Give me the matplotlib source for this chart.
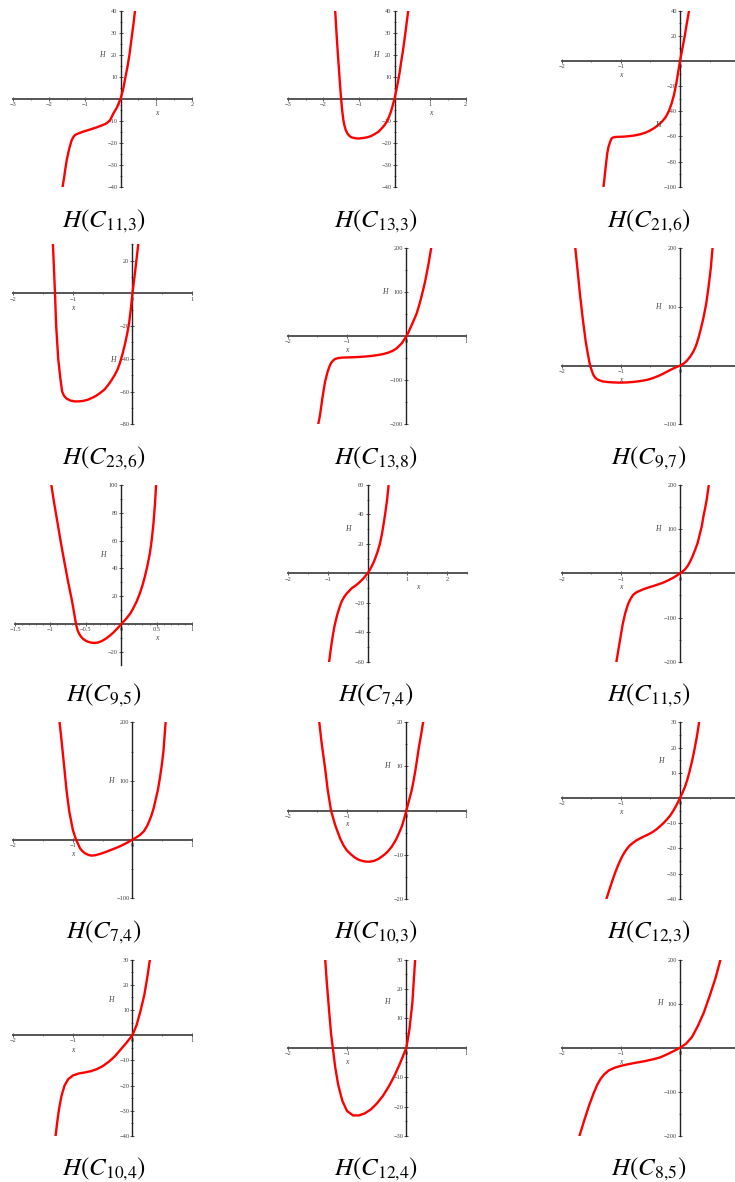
import matplotlib
matplotlib.use('Agg')
import matplotlib.pyplot as plt
from matplotlib.ticker import MultipleLocator

W, H = 735, 1182
plt.rcParams['mathtext.fontset'] = 'stix'
plt.rcParams['font.family'] = ['Liberation Serif', 'DejaVu Serif']

# ---------------- data ----------------
titles = [r'$H(C_{11{,}3})$', r'$H(C_{13{,}3})$', r'$H(C_{21{,}6})$',
          r'$H(C_{23{,}6})$', r'$H(C_{13{,}8})$', r'$H(C_{9{,}7})$',
          r'$H(C_{9{,}5})$', r'$H(C_{7{,}4})$', r'$H(C_{11{,}5})$',
          r'$H(C_{7{,}4})$', r'$H(C_{10{,}3})$', r'$H(C_{12{,}3})$',
          r'$H(C_{10{,}4})$', r'$H(C_{12{,}4})$', r'$H(C_{8{,}5})$']

x_c11_3 = [-1.62, -1.58, -1.54, -1.50, -1.46, -1.42, -1.37, -1.32, -1.27, -1.2, -1.13, -1.05, -0.95, -0.85,
           -0.76, -0.66, -0.57, -0.5, -0.43, -0.36, -0.29, -0.2, -0.1, 0, 0.07, 0.14, 0.2, 0.25, 0.29, 0.33, 0.37, 0.405]
h_c11_3 = [-40, -36, -31.5, -27.5, -24.5, -21.8, -19, -17.4, -16.5, -15.9, -15.5, -15, -14.5, -14,
           -13.5, -13, -12.4, -12, -11.5, -10.8, -9.7, -6.7, -4, 0, 4, 10, 15, 20, 25, 30, 35, 40]

x_c13_3 = [-1.67, -1.65, -1.63, -1.60, -1.57, -1.535, -1.50, -1.47, -1.44, -1.41, -1.37, -1.32, -1.26, -1.2,
           -1.1, -1.01, -0.9, -0.78, -0.66, -0.55, -0.45, -0.36, -0.28, -0.22, -0.16, -0.1, -0.05, 0, 0.05,
           0.09, 0.14, 0.18, 0.23, 0.28, 0.33, 0.39]
h_c13_3 = [41, 35.5, 30, 22.5, 15.5, 7.5, 0, -5.3, -9.3, -12, -14.2, -15.9, -17, -17.6,
           -18, -18.1, -17.9, -17.6, -17, -16, -15, -13.5, -12, -10.5, -8.5, -5.9, -3, 0, 3.8,
           7, 11.5, 16, 21, 26.7, 33, 40.6]

x_c21_6 = [-1.30, -1.28, -1.256, -1.23, -1.21, -1.19, -1.17, -1.155, -1.13, -1.10, -1.03, -0.96, -0.88,
           -0.79, -0.72, -0.65, -0.58, -0.51, -0.44, -0.37, -0.30, -0.24, -0.19, -0.14, -0.10, -0.06,
           -0.03, 0, 0.04, 0.08, 0.115, 0.152]
h_c21_6 = [-102.6, -94.7, -84, -73.4, -68.5, -65.5, -63, -61.5, -60.8, -60.5, -60.3, -60.2, -59.9,
           -59.4, -58.8, -58, -56.9, -55.4, -53.5, -51, -48, -44.5, -40, -33.5, -26.5, -17,
           -8.5, 0, 10, 20, 30, 40]

x_c23_6 = [-1.335, -1.317, -1.30, -1.28, -1.246, -1.21, -1.18, -1.15, -1.106, -1.04, -0.966, -0.9, -0.827,
           -0.75, -0.687, -0.62, -0.547, -0.47, -0.408, -0.35, -0.296, -0.25, -0.212, -0.17, -0.128, -0.09,
           -0.056, -0.025, 0, 0.039, 0.078, 0.10]
h_c23_6 = [30, 15, 0, -20, -40, -52, -60, -62.5, -64.3, -65.5, -66, -66, -65.7,
           -65, -64, -62.8, -61, -58.8, -56, -53, -49.8, -46.5, -42.7, -37.5, -31.4, -25,
           -18.2, -9, 0, 11.4, 23.7, 30.8]

x_c13_8 = [-1.494, -1.455, -1.416, -1.37, -1.326, -1.295, -1.27, -1.235, -1.2, -1.15, -1.09, -1.0, -0.92,
           -0.8, -0.697, -0.58, -0.47, -0.38, -0.303, -0.23, -0.163, -0.079, 0, 0.045, 0.09, 0.13, 0.174,
           0.21, 0.247, 0.28, 0.315, 0.37, 0.427]
h_c13_8 = [-206, -179, -141, -103, -80, -68, -61, -55, -51.5, -49.5, -48.5, -48, -47.7,
           -47, -46, -44.5, -42.4, -40, -37, -33, -27.3, -16, 0, 12, 25.8, 38, 52,
           68, 86, 104, 124, 162, 207.6]

x_c9_7 = [-1.775, -1.735, -1.69, -1.645, -1.594, -1.555, -1.52, -1.49, -1.465, -1.43, -1.38, -1.31, -1.24,
          -1.13, -1.017, -0.9, -0.79, -0.68, -0.563, -0.46, -0.366, -0.28, -0.197, -0.085, 0, 0.06, 0.113,
          0.17, 0.225, 0.27, 0.31, 0.35, 0.394, 0.44, 0.479, 0.52, 0.552]
h_c9_7 = [205.7, 165.9, 120.5, 80.7, 40.9, 18, 0, -9, -15.9, -21, -24.4, -26.8, -27.8,
          -28.6, -29, -28.6, -27.8, -26.4, -24.4, -21.3, -17.6, -13.5, -9.1, -3.4, 0, 3.5, 8,
          15, 23.9, 34, 46.6, 62, 80.7, 104, 131.8, 166, 204]

x_c9_5 = [-0.99, -0.95, -0.9, -0.85, -0.8, -0.75, -0.70, -0.68, -0.66, -0.645, -0.63, -0.615, -0.595,
          -0.57, -0.54, -0.5, -0.46, -0.42, -0.37, -0.32, -0.27, -0.21, -0.16, -0.11, -0.055, 0, 0.075,
          0.13, 0.17, 0.22, 0.264, 0.30, 0.334, 0.37, 0.405, 0.43, 0.455, 0.475, 0.493]
h_c9_5 = [101, 88, 73, 58, 44, 30.5, 18, 12.5, 6.5, 2, -1.8, -4.5, -6.8,
          -8.8, -10.5, -11.9, -12.8, -13.3, -13.5, -13.1, -12, -10.2, -8.2, -6, -3.1, 0, 4.2,
          7.8, 11.4, 16.5, 22.2, 27.8, 34.1, 42, 50.9, 60, 72, 85, 100]

x_c7_4a = [-0.965, -0.93, -0.90, -0.865, -0.83, -0.79, -0.75, -0.70, -0.65, -0.58, -0.52, -0.46, -0.40,
           -0.31, -0.23, -0.16, -0.104, -0.05, 0, 0.05, 0.104, 0.15, 0.19, 0.25, 0.31, 0.37, 0.44, 0.49, 0.535]
h_c7_4a = [-60.7, -53.5, -47.5, -41.5, -36.2, -31.5, -27.2, -23, -19.2, -15.8, -13.6, -12, -10.2,
           -8.5, -6.8, -5, -3.4, -1.7, 0, 2, 4.8, 7.3, 10, 14.5, 20, 28, 40, 49.8, 62]

x_c11_5 = [-1.08, -1.054, -1.014, -0.97, -0.93, -0.9, -0.873, -0.845, -0.817, -0.79, -0.76, -0.73, -0.68,
           -0.62, -0.54, -0.45, -0.37, -0.28, -0.2, -0.113, -0.055, 0, 0.04, 0.085, 0.13, 0.169, 0.21, 0.254,
           0.3, 0.338, 0.37, 0.394, 0.42, 0.45, 0.49]
h_c11_5 = [-204, -183, -151, -116, -92, -78.5, -68, -60, -53.5, -48.5, -45, -42.5, -39.5,
           -36, -32.3, -28.5, -25, -20.8, -15.8, -9.8, -5, 0, 4, 9, 17, 26.4, 38, 52.8,
           70, 90.6, 108, 128, 145, 166, 203.8]

x_c7_4b = [-1.227, -1.188, -1.143, -1.104, -1.06, -1.0, -0.947, -0.91, -0.88, -0.84, -0.796, -0.74, -0.685,
           -0.62, -0.545, -0.46, -0.377, -0.29, -0.21, -0.097, 0, 0.06, 0.127, 0.19, 0.24, 0.28, 0.322, 0.36,
           0.395, 0.43, 0.46, 0.49, 0.52, 0.56]
h_c7_4b = [204, 167, 121.6, 81.8, 47.7, 16.5, 0, -8, -14.8, -19.5, -23.3, -26, -27.3,
           -26.5, -24.4, -21.5, -18.2, -14.8, -11.4, -5.7, 0, 3.5, 8, 14, 22, 31, 42, 55,
           70.5, 86, 104.5, 125, 150, 204]

x_c10_3 = [-1.472, -1.427, -1.37, -1.326, -1.27, -1.2, -1.118, -1.06, -1.006, -0.93, -0.865, -0.8, -0.725,
           -0.67, -0.612, -0.54, -0.472, -0.42, -0.36, -0.3, -0.247, -0.2, -0.163, -0.12, -0.079, -0.04, 0,
           0.045, 0.09, 0.125, 0.157, 0.185, 0.213, 0.25, 0.287]
h_c10_3 = [20.5, 15.2, 9.6, 4.7, 0, -3.3, -6.3, -7.9, -9, -10, -10.7, -11.2, -11.5,
           -11.6, -11.6, -11.4, -11, -10.5, -9.9, -9.1, -8.2, -7.2, -6.3, -5, -3.7, -2, 0,
           2.3, 4.6, 7, 9.5, 12, 14.5, 17.3, 20.4]

x_c12_3 = [-1.25, -1.21, -1.17, -1.13, -1.09, -1.05, -1.01, -0.97, -0.93, -0.89, -0.85, -0.8, -0.74,
           -0.67, -0.6, -0.53, -0.46, -0.4, -0.34, -0.28, -0.22, -0.16, -0.1, -0.05, 0, 0.04, 0.085,
           0.12, 0.158, 0.19, 0.225, 0.255, 0.282, 0.305, 0.327]
h_c12_3 = [-40.5, -37.6, -34.7, -31.9, -29.3, -26.9, -24.8, -22.9, -21.3, -20, -18.9, -17.9, -16.9,
           -16, -15.2, -14.4, -13.5, -12.5, -11.3, -10, -8.5, -6.8, -4.6, -2.4, 0, 2, 4.5,
           7, 10.2, 13.3, 17, 20.6, 24, 27.3, 30.9]

x_c10_4 = [-1.29, -1.26, -1.23, -1.19, -1.14, -1.08, -1.0, -0.9, -0.8, -0.7, -0.6, -0.5, -0.4,
           -0.3, -0.2, -0.1, 0, 0.07, 0.14, 0.2, 0.25, 0.3]
h_c10_4 = [-40, -34, -29, -24, -20, -17.5, -16, -15.2, -14.8, -14.3, -13.5, -12.3, -10.6,
           -8.5, -5.8, -3, 0, 4, 10, 16, 23, 31]

x_c12_4 = [-1.37, -1.34, -1.30, -1.27, -1.24, -1.2, -1.15, -1.08, -1.0, -0.9, -0.8, -0.7, -0.6,
           -0.5, -0.4, -0.3, -0.2, -0.1, 0, 0.05, 0.1, 0.15]
h_c12_4 = [30.6, 22, 12, 5, 0, -6.5, -12.5, -18, -21.5, -23, -23, -22.3, -21,
           -19, -16.5, -13.3, -9.5, -5, 0, 6, 15, 30.6]

x_c8_5 = [-1.70, -1.62, -1.54, -1.46, -1.40, -1.34, -1.28, -1.2, -1.1, -1.0, -0.9, -0.75, -0.6,
          -0.45, -0.34, -0.22, -0.1, 0, 0.1, 0.2, 0.3, 0.4, 0.5, 0.6, 0.69]
h_c8_5 = [-200, -165, -132, -103, -84, -70, -60, -51, -45, -41, -38, -34, -30.5,
          -26, -22, -15, -7, 0, 9, 24, 49, 79, 117, 158, 203]

# x/y tick labels for each panel
xt_a = [-3, -2, -1, 0, 1, 2]
xt_b = [-2, -1, 0, 1]
xt_c = [-2, -1, 0]
xt_d = [-1.5, -1, -0.5, 0, 0.5, 1]
xt_e = [-2, -1, 0, 1, 2]
yt_40 = [40, 30, 20, 10, -10, -20, -30, -40]
yt_21_6 = [40, 20, -20, -40, -60, -80, -100]
yt_23_6 = [20, -20, -40, -60, -80]
yt_200 = [200, 100, -100, -200]
yt_200b = [200, 100, -100]
yt_9_5 = [100, 80, 60, 40, 20, -20]
yt_60 = [60, 40, 20, -20, -40, -60]
yt_20 = [20, 10, -10, -20]
yt_30_40 = [30, 20, 10, -10, -20, -30, -40]
yt_30 = [30, 20, 10, -10, -20, -30]

# ---------------- layout ----------------
fig = plt.figure(figsize=(7.35, 11.82), dpi=100)

COL = [(13.3, 192.0), (287.7, 465.7), (561.7, 739.2)]
TITLE_X = [104, 376, 649]
TITLE_Y = [227, 464, 701, 938, 1175]


def fmt(v):
    s = f"{v:g}"
    return s.replace('-', '\u2212')


def panel(x, h, box, xlim, ylim, xt, xminor, yt, yminor, hpos, xpos, title, tpos):
    l, r, t, b = box
    ax = fig.add_axes([l / W, 1 - b / H, (r - l) / W, (b - t) / H])
    ax.set_xlim(*xlim)
    ax.set_ylim(*ylim)
    ax.patch.set_alpha(0)
    for s in ['top', 'right']:
        ax.spines[s].set_visible(False)
    ax.spines['left'].set_position(('data', 0))
    ax.spines['bottom'].set_position(('data', 0))
    ax.spines['bottom'].set_color('#555555')
    ax.spines['bottom'].set_linewidth(1.4)
    ax.spines['left'].set_color('#222222')
    ax.spines['left'].set_linewidth(1.0)
    ax.set_xticks(xt)
    ax.set_xticklabels([fmt(v) for v in xt])
    ax.set_yticks(yt)
    ax.set_yticklabels([fmt(v) for v in yt])
    ax.xaxis.set_minor_locator(MultipleLocator(xminor))
    ax.yaxis.set_minor_locator(MultipleLocator(yminor))
    ax.tick_params(which='major', direction='inout', length=3, width=0.6, color='#333333',
                   labelsize=4.6, labelcolor='#444444', pad=0.8)
    ax.tick_params(which='minor', direction='inout', length=1.6, width=0.5, color='#333333')
    ax.plot(x, h, color='#ff0000', lw=1.7, solid_joinstyle='round', zorder=3)
    fig.text(hpos[0] / W, 1 - hpos[1] / H, 'H', style='italic', fontsize=5.5,
             color='#444444', ha='center', va='center')
    fig.text(xpos[0] / W, 1 - xpos[1] / H, 'x', style='italic', fontsize=5.5,
             color='#444444', ha='center', va='center')
    fig.text(TITLE_X[tpos[1]] / W, 1 - TITLE_Y[tpos[0]] / H, title, fontsize=18,
             ha='center', va='baseline')
    return ax


# row 1
panel(x_c11_3, h_c11_3, (*COL[0], 10.7, 186.7), (-3, 2), (-40, 40), xt_a, 0.5, yt_40, 5,
      (101.7, 55), (156.7, 113.3), titles[0], (0, 0))
panel(x_c13_3, h_c13_3, (*COL[1], 10.7, 186.7), (-3, 2), (-40, 40), xt_a, 0.5, yt_40, 5,
      (375.7, 55), (430.3, 113.3), titles[1], (0, 1))
panel(x_c21_6, h_c21_6, (*COL[2], 10.7, 186.7), (-2, 1), (-100, 40), xt_c, 0.5, yt_21_6, 10,
      (658.3, 125), (621, 75), titles[2], (0, 2))
# row 2
panel(x_c23_6, h_c23_6, (*COL[0], 244.3, 424.3), (-2, 1), (-80, 30), xt_b, 0.5, yt_23_6, 10,
      (113.3, 360), (72.7, 307.7), titles[3], (1, 0))
panel(x_c13_8, h_c13_8, (*COL[1], 248.3, 424.3), (-2, 1), (-200, 200), xt_b, 0.5, yt_200, 50,
      (385, 292.3), (347, 350), titles[4], (1, 1))
panel(x_c9_7, h_c9_7, (*COL[2], 248.3, 424.3), (-2, 1), (-100, 200), xt_c, 0.5, yt_200b, 50,
      (658.3, 306.7), (620.7, 380), titles[5], (1, 2))
# row 3
panel(x_c9_5, h_c9_5, (15.0, 192.0, 485, 664.8), (-1.5, 1), (-29.2, 100), xt_d, 0.1, yt_9_5, 10,
      (102.7, 555), (156.7, 638.3), titles[6], (2, 0))
panel(x_c7_4a, h_c7_4a, (287.7, 467.3, 485, 661.7), (-2, 2.5), (-60, 60), xt_e, 0.5, yt_60, 10,
      (348.3, 529.3), (417.7, 587.3), titles[7], (2, 1))
panel(x_c11_5, h_c11_5, (*COL[2], 485, 661.7), (-2, 1), (-200, 200), xt_c, 0.5, yt_200, 50,
      (658.3, 529.3), (621, 587.3), titles[8], (2, 2))
# row 4
panel(x_c7_4b, h_c7_4b, (*COL[0], 722.3, 898.3), (-2, 1), (-100, 200), xt_b, 0.5, yt_200b, 50,
      (111, 781.3), (72.7, 854.3), titles[9], (3, 0))
panel(x_c10_3, h_c10_3, (*COL[1], 722.3, 898.7), (-2, 1), (-20, 20), xt_b, 0.5, yt_20, 5,
      (387.3, 766.3), (347, 824.3), titles[10], (3, 1))
panel(x_c12_3, h_c12_3, (*COL[2], 722.3, 898.7), (-2, 1), (-40, 30), xt_c, 0.5, yt_30_40, 5,
      (660.7, 760.7), (621, 812.3), titles[11], (3, 2))
# row 5
panel(x_c10_4, h_c10_4, (*COL[0], 959.5, 1136), (-2, 1), (-40, 30), xt_b, 0.5, yt_30_40, 5,
      (111, 1000), (73, 1050), titles[12], (4, 0))
panel(x_c12_4, h_c12_4, (*COL[1], 959.5, 1136), (-2, 1), (-30, 30), xt_b, 0.5, yt_30, 5,
      (387, 1002), (347, 1062), titles[13], (4, 1))
panel(x_c8_5, h_c8_5, (*COL[2], 959.5, 1136), (-2, 1), (-200, 200), xt_c, 0.5, yt_200, 50,
      (660, 1003), (621, 1062), titles[14], (4, 2))

fig.savefig('out.png', dpi=100)
